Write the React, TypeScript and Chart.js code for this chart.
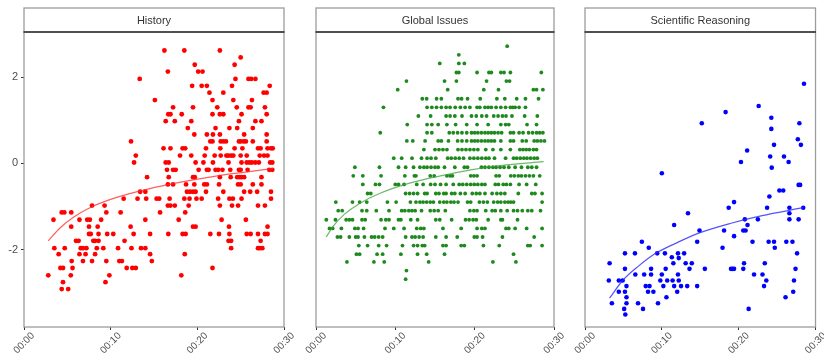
import React, { useEffect, useRef } from 'react';
import { Chart, registerables } from 'chart.js';

Chart.register(...registerables);

// ---------- labels ----------
const panelTitles = ['History', 'Global Issues', 'Scientific Reasoning'];
const xTickValues = [0, 10, 20, 30];
const xTickLabels = ['00:00', '00:10', '00:20', '00:30'];
const yTickValues = [-2, 0, 2];
const yTickLabels = ['-2', '0', '2'];

// ---------- History (minutes, score) : rows of equal score ----------
const historyRowY = [2.62, 2.46, 2.29, 2.13, 1.96, 1.8, 1.64, 1.47, 1.3, 1.14, 0.98, 0.82, 0.67, 0.51, 0.35, 0.18, 0.02, -0.15, -0.32, -0.49, -0.66, -0.82, -0.98, -1.14, -1.31, -1.47, -1.64, -1.8, -1.97, -2.11, -2.27, -2.43, -2.6, -2.76, -2.92];
const historyRowX = [
  [16.2, 18.5, 22.6],
  [25.0],
  [19.7, 24.3],
  [16.6, 20.1, 20.6],
  [13.35, 24.4, 25.9, 26.2, 26.7],
  [19.4, 20.5, 21.1, 24.0, 28.35],
  [21.4, 23.0, 27.65, 28.0],
  [15.1, 21.75, 24.15, 26.3],
  [17.2, 19.5, 22.3, 24.55, 25.9, 26.15, 27.8],
  [16.65, 16.9, 18.2, 21.75, 22.6, 23.0, 25.1, 28.0],
  [16.35, 17.4, 19.3, 24.8, 26.7, 27.4],
  [18.9, 22.1, 23.7, 24.6, 26.4],
  [19.65, 21.1, 21.8, 22.6, 25.4, 28.0],
  [12.35, 21.5, 21.75, 22.7, 23.0, 23.3, 24.8, 25.0, 25.35, 25.6, 26.4, 28.0],
  [16.1, 16.9, 18.3, 18.6, 21.0, 22.65, 24.3, 25.2, 27.0, 27.3, 28.1, 28.5, 28.7],
  [12.9, 18.0, 19.3, 20.85, 22.0, 22.7, 23.35, 23.6, 23.9, 24.15, 25.0, 25.7, 27.2, 27.7, 28.1],
  [12.7, 16.35, 16.7, 19.8, 20.7, 21.8, 23.6, 25.1, 25.7, 26.0, 26.3, 26.7, 27.1, 28.4, 28.65],
  [16.5, 17.2, 17.5, 20.15, 21.1, 21.3, 22.1, 22.4, 22.9, 23.8, 24.8, 25.0, 25.8, 28.3, 28.65],
  [14.2, 16.7, 19.5, 19.7, 22.6, 23.85, 24.6, 24.85, 25.1, 25.4, 27.4],
  [16.6, 17.2, 18.7, 19.65, 20.8, 21.1, 22.5, 24.7, 25.0, 26.4, 27.4],
  [13.4, 14.0, 18.8, 19.15, 19.5, 19.8, 21.0, 23.0, 25.4, 26.1, 26.9, 28.5],
  [11.5, 13.1, 14.1, 15.3, 15.6, 16.8, 18.5, 19.1, 19.9, 20.5, 22.4, 23.7, 24.1, 25.1, 28.5],
  [7.85, 9.3, 16.6, 16.9, 17.4, 19.0, 22.6, 24.0, 24.7, 27.0, 27.8],
  [4.35, 4.65, 5.45, 9.5, 11.15, 15.7, 18.6],
  [3.4, 6.4, 7.3, 7.6, 8.9, 14.0, 17.85, 22.8, 25.6],
  [5.45, 7.5, 8.5, 12.3, 19.5, 19.8, 23.65, 28.1],
  [7.5, 7.7, 8.6, 9.6, 10.3, 12.65, 14.55, 16.65, 18.3, 18.65, 21.5, 22.5, 23.7, 25.7, 26.15, 27.0, 27.8, 28.1],
  [6.0, 6.3, 8.0, 8.2, 8.6, 11.6, 23.6, 23.9, 27.3],
  [3.5, 4.7, 6.55, 6.8, 7.2, 8.4, 9.15, 10.85, 12.4, 13.5, 14.0, 23.9, 27.0, 27.2, 27.5],
  [4.0, 6.4, 7.1, 8.2, 14.55, 18.55],
  [5.5, 6.8, 7.85, 9.5, 11.0, 11.3, 14.75],
  [4.2, 4.5, 5.6, 11.85, 12.5, 12.9, 21.75],
  [2.8, 5.4, 9.85, 18.15],
  [4.5, 9.4],
  [4.35, 5.1],
];

// ---------- Global Issues ----------
const globalRowY = [2.72, 2.52, 2.32, 2.11, 1.91, 1.71, 1.5, 1.3, 1.1, 0.9, 0.71, 0.52, 0.32, 0.12, -0.09, -0.29, -0.49, -0.7, -0.9, -1.1, -1.31, -1.51, -1.71, -1.91, -2.11, -2.29, -2.49, -2.69];
const globalRowX = [
  [24.1],
  [18.0],
  [15.6, 18.0, 18.7],
  [17.7, 18.0, 20.3, 21.8, 22.1, 23.3, 23.7, 24.5, 28.4],
  [11.4, 16.2, 17.7, 21.5, 24.0, 24.4],
  [10.3, 16.6, 21.15, 23.0, 27.4, 27.8, 28.6],
  [13.4, 13.95, 15.2, 15.8, 17.9, 18.35, 19.1, 20.7, 22.8, 23.8, 25.3, 26.4, 28.05],
  [8.5, 14.0, 14.6, 15.2, 15.8, 16.4, 16.9, 17.55, 18.2, 18.8, 19.4, 20.3, 20.65, 21.3, 21.7, 22.1, 22.7, 23.3, 23.9, 24.5, 24.8, 25.1, 25.6, 26.4],
  [12.9, 14.45, 16.4, 16.9, 17.5, 18.4, 19.6, 20.2, 20.9, 21.5, 22.4, 22.95, 23.5, 23.95, 24.7, 26.3, 27.9],
  [11.5, 14.0, 14.6, 15.4, 16.5, 17.6, 19.0, 20.3, 21.7, 23.3, 23.9, 24.3, 26.6, 27.8],
  [8.1, 14.0, 14.6, 16.8, 17.3, 17.85, 18.4, 19.0, 19.6, 20.0, 20.4, 20.85, 21.3, 21.7, 22.1, 22.5, 22.95, 23.4, 24.5, 24.9, 25.6, 26.1, 26.8, 27.3, 27.8, 28.2, 28.6],
  [11.45, 12.2, 13.75, 15.4, 15.8, 16.7, 17.85, 18.4, 19.0, 19.6, 20.0, 20.4, 20.85, 21.3, 21.7, 22.1, 22.5, 23.3, 24.5, 24.9, 26.0, 26.5, 27.5, 27.9, 28.35, 28.8],
  [13.6, 15.0, 15.5, 16.0, 16.5, 17.9, 18.4, 18.9, 19.4, 19.9, 20.4, 21.4, 22.3, 23.3, 24.5, 25.7, 26.1, 26.5, 26.9, 27.4, 27.8],
  [9.8, 10.8, 12.1, 13.3, 14.0, 14.5, 15.1, 16.6, 17.05, 17.55, 18.05, 18.6, 19.4, 19.9, 20.4, 20.9, 21.4, 21.8, 22.5, 23.9, 24.9, 25.3, 25.75, 26.2, 26.6, 27.05, 27.5, 27.9],
  [4.9, 8.0, 10.4, 11.3, 12.3, 13.1, 13.6, 14.0, 14.5, 15.0, 15.4, 16.2, 17.5, 18.7, 19.1, 20.85, 21.3, 21.8, 22.3, 22.7, 23.2, 23.7, 24.3, 25.1, 25.9, 26.7, 27.2, 27.8],
  [4.7, 5.9, 8.2, 11.2, 12.4, 12.6, 14.4, 14.9, 16.5, 16.9, 17.2, 19.5, 19.9, 20.3, 22.7, 23.1, 24.55, 25.0, 25.5, 25.9, 26.4, 26.9, 27.4, 28.2],
  [5.9, 7.5, 8.0, 10.0, 10.4, 11.1, 12.7, 13.5, 14.45, 15.0, 15.7, 16.4, 17.3, 18.05, 18.5, 19.0, 19.5, 19.95, 20.4, 20.9, 21.3, 22.6, 23.0, 23.6, 24.0, 24.5, 25.6, 26.55, 27.7],
  [6.5, 6.9, 11.3, 11.8, 12.3, 12.8, 13.7, 14.0, 15.1, 15.5, 16.1, 16.4, 17.1, 17.5, 18.2, 18.8, 19.7, 20.2, 20.65, 21.3, 22.2, 22.8, 23.3, 23.8, 25.5, 27.2, 27.6, 28.5],
  [2.5, 4.6, 5.5, 6.4, 9.0, 10.1, 11.9, 12.6, 13.1, 13.5, 13.95, 14.4, 14.8, 15.6, 16.1, 16.5, 17.0, 17.4, 17.9, 19.1, 19.5, 20.6, 21.1, 21.6, 22.4, 22.9, 23.3, 23.8, 24.2, 24.55, 24.9, 28.5],
  [2.8, 3.3, 5.8, 6.4, 7.6, 9.2, 10.8, 11.2, 11.7, 12.1, 12.5, 13.3, 14.4, 14.9, 15.4, 16.3, 19.4, 19.9, 20.3, 21.4, 22.2, 22.6, 23.3, 24.1, 24.9, 25.4, 26.0, 26.7, 27.2, 28.3],
  [1.3, 2.45, 3.8, 4.2, 4.6, 5.8, 6.2, 8.2, 8.8, 9.2, 10.4, 10.7, 11.95, 12.8, 15.1, 15.6, 17.1, 18.85, 19.3, 19.8, 20.2, 21.7, 23.3, 23.5, 25.4],
  [1.7, 2.1, 3.2, 4.9, 5.3, 6.0, 8.7, 9.8, 11.1, 12.7, 13.2, 13.6, 16.0, 18.3, 20.3, 20.9, 21.3, 23.95, 24.3, 25.1, 26.55, 28.5],
  [2.7, 3.1, 4.2, 5.0, 5.3, 6.1, 7.0, 7.4, 7.9, 8.4, 11.3, 12.1, 12.5, 13.0, 13.5, 15.1, 16.4, 17.8, 19.95, 20.3, 21.0, 23.5, 27.5],
  [5.4, 6.5, 7.9, 8.9, 10.9, 12.3, 12.8, 13.4, 13.7, 16.0, 16.4, 18.3, 18.7, 21.1, 23.1, 26.7, 27.0, 28.5],
  [5.1, 5.5, 7.7, 8.4, 10.7, 12.8, 13.95, 16.2, 24.9],
  [3.9, 7.3, 8.6, 14.2, 22.3, 25.2],
  [11.4],
  [11.3],
];

// ---------- Scientific Reasoning ----------
const sciX = [28.5, 22.6, 18.3, 15.2, 24.25, 24.25, 27.9, 27.7, 28.1, 24.6, 21.1, 24.1, 25.9, 26.5, 20.3, 24.3, 10.0,
  13.4, 11.6, 18.7, 19.4, 23.7, 24.0, 25.3, 25.8, 27.8, 28.0, 26.6, 26.6, 28.4, 26.6, 27.8, 22.5, 20.8, 21.15, 20.6, 20.9, 18.1, 14.9, 19.4,
  14.6, 21.8, 23.9, 24.6, 24.7, 26.2, 27.0, 17.9, 27.6, 7.4, 8.3, 5.2, 6.5, 9.4, 10.4, 11.3, 12.1, 12.9, 12.2,
  11.5, 13.1, 13.9, 8.6, 10.5, 10.0, 12.1, 13.6, 15.6, 19.0, 19.2, 19.4, 20.6, 20.7, 23.4, 27.4, 22.0, 23.1, 23.6, 23.3, 27.2, 27.1, 26.1, 21.3,
  3.2, 3.1, 4.4, 4.9, 5.2, 6.55, 7.7, 8.6, 7.9, 8.4, 8.2, 8.9, 9.8, 10.7, 11.4, 10.2, 11.6, 12.2, 12.5, 13.3, 14.6, 12.0, 10.6, 9.5,
  5.4, 5.2, 4.4, 5.4, 5.4, 3.5, 5.1, 5.25, 6.9, 7.55];
const sciY = [1.85, 1.33, 1.19, 0.93, 1.06, 0.8, 0.93, 0.56, 0.43, 0.43, 0.3, 0.16, 0.16, 0.03, 0.03, -0.1, -0.23,
  -1.16, -1.43, -1.03, -0.9, -1.03, -0.77, -0.63, -0.63, -0.5, -0.5, -1.03, -1.16, -1.03, -1.3, -1.3, -1.3, -1.3, -1.43, -1.56, -1.56, -1.56, -1.56, -1.69,
  -1.82, -1.82, -1.82, -1.82, -1.96, -1.82, -1.82, -1.96, -2.09, -1.82, -1.96, -2.09, -2.09, -2.09, -2.09, -2.18, -2.09, -2.09, -2.2,
  -2.32, -2.32, -2.32, -2.45, -2.45, -2.58, -2.58, -2.45, -2.45, -2.45, -2.45, -2.45, -2.45, -2.32, -2.32, -2.45, -2.58, -2.58, -2.72, -2.85, -2.72, -2.98, -3.11, -3.38,
  -2.32, -2.72, -2.72, -2.72, -2.45, -2.58, -2.58, -2.58, -2.85, -2.85, -2.98, -2.98, -2.72, -2.72, -2.72, -2.85, -2.85, -2.72, -2.85, -2.85, -2.85, -2.98, -3.11, -3.25,
  -2.85, -2.98, -2.98, -3.11, -3.25, -3.25, -3.38, -3.51, -3.25, -3.38];

// ---------- fitted curves ----------
const historyFitX = [2.8, 4.15, 5.7, 7.6, 9.5, 13.4, 17.2, 21.1, 24.9, 28.8];
const historyFitY = [-1.8, -1.5, -1.25, -1.03, -0.87, -0.64, -0.47, -0.33, -0.22, -0.12];
const globalFitX = [1.3, 2.2, 3.6, 5.5, 8.0, 11.8, 15.7, 19.5, 23.3, 28.7];
const globalFitY = [-1.71, -1.45, -1.18, -0.93, -0.7, -0.46, -0.29, -0.15, -0.05, 0.04];
const sciFitX = [3.2, 4.9, 7.0, 9.1, 12.0, 14.8, 19.0, 22.9, 28.4];
const sciFitY = [-3.13, -2.72, -2.38, -2.1, -1.84, -1.62, -1.39, -1.22, -1.03];

const FONT = '"Liberation Sans", Arial, Helvetica, sans-serif';

const rowsToPoints = (rowY: number[], rowX: number[][]) =>
  rowX.flatMap((xs, i) => xs.map((x) => ({ x, y: rowY[i] })));
const pairsToPoints = (xs: number[], ys: number[]) => xs.map((x, i) => ({ x, y: ys[i] }));

const panels = [
  {
    title: panelTitles[0],
    points: rowsToPoints(historyRowY, historyRowX),
    fit: pairsToPoints(historyFitX, historyFitY),
    color: '#ff0000',
    lineColor: 'rgba(255,40,40,0.75)',
    radius: 2.4,
    left: 24,
    right: 284,
    showY: true,
  },
  {
    title: panelTitles[1],
    points: rowsToPoints(globalRowY, globalRowX),
    fit: pairsToPoints(globalFitX, globalFitY),
    color: '#1e8a1e',
    lineColor: 'rgba(60,160,60,0.75)',
    radius: 1.9,
    left: 292,
    right: 554,
    showY: false,
  },
  {
    title: panelTitles[2],
    points: pairsToPoints(sciX, sciY),
    fit: pairsToPoints(sciFitX, sciFitY),
    color: '#0000ff',
    lineColor: 'rgba(40,40,255,0.8)',
    radius: 2.3,
    left: 561,
    right: 822,
    showY: false,
  },
];

const W = 824;
const H = 354;

const framePlugin = {
  id: 'panelFrame',
  afterDraw(chart: any, _args: any, opts: any) {
    const { ctx, chartArea } = chart;
    const { left, right, top, bottom } = chartArea;
    const stripTop = 8;
    ctx.save();
    ctx.lineWidth = 1.3;
    ctx.strokeStyle = '#9c9c9c';
    ctx.strokeRect(left, stripTop, right - left, top - stripTop);
    ctx.strokeRect(left, top, right - left, bottom - top);
    ctx.strokeStyle = '#333333';
    ctx.lineWidth = 1.4;
    ctx.beginPath();
    ctx.moveTo(left - 0.5, top);
    ctx.lineTo(right + 0.5, top);
    ctx.stroke();
    ctx.fillStyle = '#333333';
    ctx.font = `11px ${FONT}`;
    ctx.textAlign = 'center';
    ctx.textBaseline = 'middle';
    ctx.fillText(opts.title, (left + right) / 2, (stripTop + top) / 2 + 0.5);
    ctx.restore();
  },
};

function Panel({ p }: { p: (typeof panels)[number] }) {
  const ref = useRef<HTMLCanvasElement>(null);
  useEffect(() => {
    if (!ref.current) return;
    const chart = new Chart(ref.current, {
      type: 'scatter',
      data: {
        datasets: [
          {
            type: 'line',
            data: p.fit,
            borderColor: p.lineColor,
            borderWidth: 1.2,
            pointRadius: 0,
            fill: false,
            cubicInterpolationMode: 'monotone',
            order: 0,
          } as any,
          {
            type: 'scatter',
            data: p.points,
            backgroundColor: p.color,
            borderWidth: 0,
            pointRadius: p.radius,
            order: 1,
          },
        ],
      },
      options: {
        responsive: false,
        animation: false,
        devicePixelRatio: 1,
        layout: { padding: { left: p.showY ? 0 : p.left, right: W - p.right, top: 32, bottom: 0 } },
        plugins: {
          legend: { display: false },
          tooltip: { enabled: false },
          panelFrame: { title: p.title },
        } as any,
        scales: {
          x: {
            type: 'linear',
            min: 0,
            max: 30,
            afterBuildTicks: (s: any) => {
              s.ticks = xTickValues.map((v) => ({ value: v }));
            },
            afterFit: (s: any) => {
              s.height = 27;
            },
            ticks: {
              callback: (v: any) => xTickLabels[xTickValues.indexOf(Number(v))],
              minRotation: 45,
              maxRotation: 45,
              labelOffset: 9,
              padding: 0,
              color: '#4d4d4d',
              font: { size: 10, family: FONT },
            },
            grid: { display: true, drawOnChartArea: false, drawTicks: true, tickLength: 3, color: '#333' },
            border: { display: false },
          },
          y: {
            type: 'linear',
            min: -3.8,
            max: 3.05,
            display: p.showY,
            afterBuildTicks: (s: any) => {
              s.ticks = yTickValues.map((v) => ({ value: v }));
            },
            afterFit: (s: any) => {
              s.width = 24;
            },
            ticks: {
              callback: (v: any) => yTickLabels[yTickValues.indexOf(Number(v))],
              padding: 3,
              color: '#4d4d4d',
              font: { size: 11, family: FONT },
            },
            grid: { display: true, drawOnChartArea: false, drawTicks: true, tickLength: 3, color: '#333' },
            border: { display: false },
          },
        },
      },
      plugins: [framePlugin],
    });
    return () => chart.destroy();
  }, [p]);
  return (
    <canvas
      ref={ref}
      width={W}
      height={H}
      style={{ position: 'absolute', left: 0, top: 0, width: W, height: H }}
    />
  );
}

export default function App() {
  return (
    <div style={{ position: 'absolute', left: 0, top: 0, width: W, height: H, background: '#fff', overflow: 'hidden' }}>
      {panels.map((p) => (
        <Panel key={p.title} p={p} />
      ))}
    </div>
  );
}
